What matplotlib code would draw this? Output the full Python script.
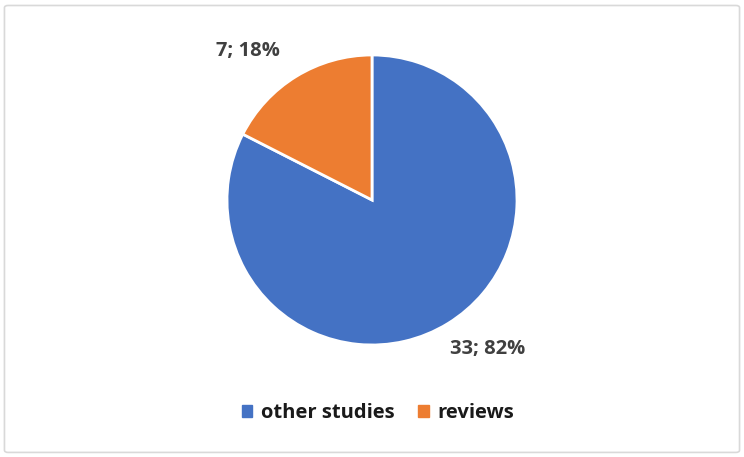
import matplotlib
matplotlib.use("Agg")
import matplotlib.pyplot as plt
from matplotlib.patches import FancyBboxPatch, Patch

categories = ["other studies", "reviews"]
values = [33, 7]
percents = [82, 18]
colors = ["#4472C4", "#ED7D31"]

plt.rcParams['font.family'] = ['Open Sans', 'DejaVu Sans']

fig = plt.figure(figsize=(7.44, 4.57), dpi=100)
fig.patch.set_facecolor("white")
fig.patches.append(FancyBboxPatch((0.006, 0.01), 0.988, 0.978, boxstyle="round,pad=0,rounding_size=0.005",
                                  transform=fig.transFigure, facecolor="none", edgecolor="#D9D9D9", linewidth=1.2))

ax = fig.add_axes([0.3051, 0.2451, 0.3898, 0.6346])
wedges, _ = ax.pie(values, colors=colors, startangle=90, counterclock=False,
                   wedgeprops=dict(edgecolor="white", linewidth=2))
ax.set_xlim(-1, 1)
ax.set_ylim(-1, 1)
ax.set_aspect("auto")

label_pos = [(0.8, -1.03), (-0.855, 1.03)]
for (x, y), v, p in zip(label_pos, values, percents):
    ax.text(x, y, f"{v}; {p}%", ha="center", va="center", fontsize=14.5, fontweight="bold",
            color="#404040", clip_on=False)

handles = [Patch(facecolor=c, edgecolor=c) for c in colors]
fig.legend(handles, categories, loc="center", bbox_to_anchor=(0.508, 1 - 413 / 457), ncol=2, frameon=False,
           prop=dict(size=14.5, weight="bold"), handlelength=0.5, handleheight=0.5,
           columnspacing=1.2, handletextpad=0.45, labelcolor="#1a1a1a")

fig.savefig("out.png", dpi=100)
